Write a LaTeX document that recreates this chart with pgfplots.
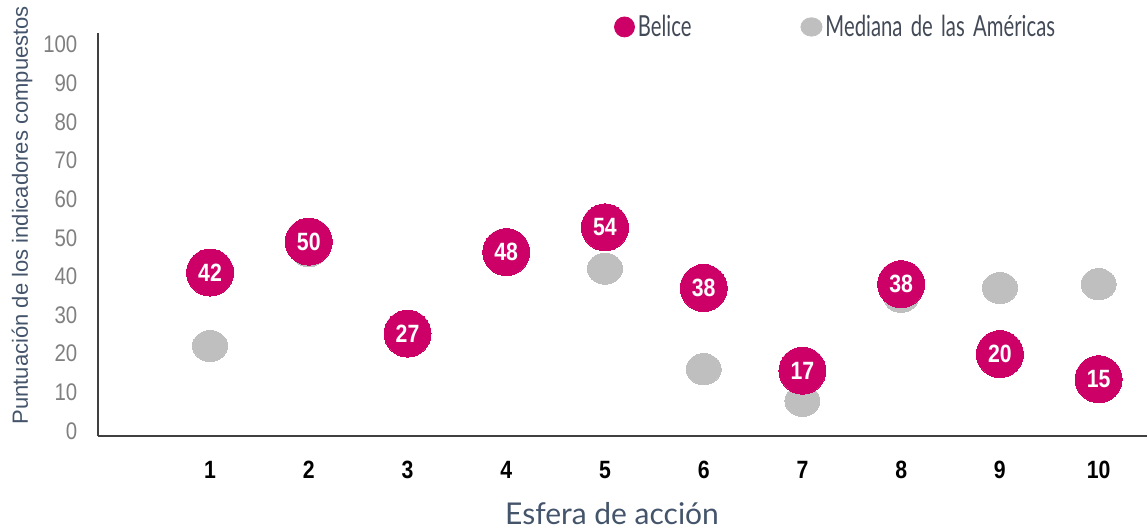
\documentclass[border=0pt]{standalone}
\usepackage{fontspec}
\setmainfont{Liberation Sans}
\newfontfamily\narrowsans[FakeStretch=0.85]{Liberation Sans}
\newfontfamily\gillfont{Lato}
\newfontfamily\legfont[FakeStretch=0.7, WordSpace=1.6]{Lato}
\usepackage{pgfplots}
\pgfplotsset{compat=1.18}
\usetikzlibrary{calc}
\definecolor{belice}{HTML}{CC0066}
\definecolor{mediana}{HTML}{BFBFBF}
\definecolor{tickgray}{HTML}{808080}
\definecolor{labelblue}{HTML}{44546A}
\definecolor{legtext}{HTML}{434A57}
\definecolor{axisgray}{HTML}{404040}
\begin{document}
\begin{tikzpicture}
\begin{axis}[
  scale only axis, width=524.5pt, height=201.5pt,
  xmin=-0.135, xmax=10.49, ymin=-1.3, ymax=103,
  axis x line*=bottom, axis y line*=left,
  axis line style={axisgray, line width=0.8pt},
  clip=false,
  major tick length=0pt,
  /pgf/number format/assume math mode=true,
  ytick={0,10,...,100},
  xtick={1,2,...,10},
  yticklabel style={font=\narrowsans\fontsize{12}{14}\selectfont, text=tickgray, xshift=-6.8pt},
  xticklabel style={font=\narrowsans\bfseries\fontsize{12.5}{14}\selectfont, text=black, yshift=-9pt},
  xlabel={Esfera de acción},
  xlabel style={at={(rel axis cs:0.49,0)}, anchor=center, yshift=-39pt, font=\gillfont\fontsize{15}{17}\selectfont, text=labelblue},
  ylabel={Puntuación de los indicadores compuestos},
  ylabel style={at={(rel axis cs:0,0.548)}, anchor=center, yshift=38pt, font=\fontsize{11}{12}\selectfont, text=labelblue},
  legend columns=2,
  legend style={draw=none, fill=none, at={(rel axis cs:0.492,1.015)}, anchor=west,
    inner sep=0pt, outer sep=0pt, font=\legfont\fontsize{14.5}{16}\selectfont, text=legtext,
    /tikz/every even column/.append style={column sep=53pt},
    nodes={inner sep=1.5pt}},
]
\addlegendimage{legend image code/.code={\fill[belice] (0,0) circle (5pt);}}
\addlegendentry{Belice}
\addlegendimage{legend image code/.code={\fill[mediana] (0,0) ellipse (5.3pt and 4.6pt);}}
\addlegendentry{Mediana de las Américas}

\addplot[color=mediana, only marks, mark=*, mark size=7.75pt, mark options={fill=mediana, draw=mediana, line width=0pt, xscale=1.13}, forget plot]
coordinates {(1,22.0) (2,46.5) (3,25.5) (4,46.0) (5,42.0) (6,16.0) (7,7.8) (8,34.7) (9,37.0) (10,38.0)};

\addplot[color=belice, only marks, mark=*, mark size=11.75pt, mark options={fill=belice, draw=belice, line width=0pt},
  point meta=explicit symbolic, nodes near coords,
  nodes near coords style={anchor=center, text=white, font=\narrowsans\bfseries\fontsize{12.5}{14}\selectfont},
  forget plot]
coordinates {(1,41.0)[42] (2,49.0)[50] (3,25.2)[27] (4,46.3)[48] (5,52.7)[54] (6,37.0)[38] (7,15.6)[17] (8,38.0)[38] (9,19.9)[20] (10,13.4)[15]};
\end{axis}
\pgfresetboundingbox
\useasboundingbox ($(current axis.south west)+(-49pt,-46.5pt)$) rectangle ($(current axis.north east)+(0pt,16.5pt)$);
\end{tikzpicture}
\end{document}
